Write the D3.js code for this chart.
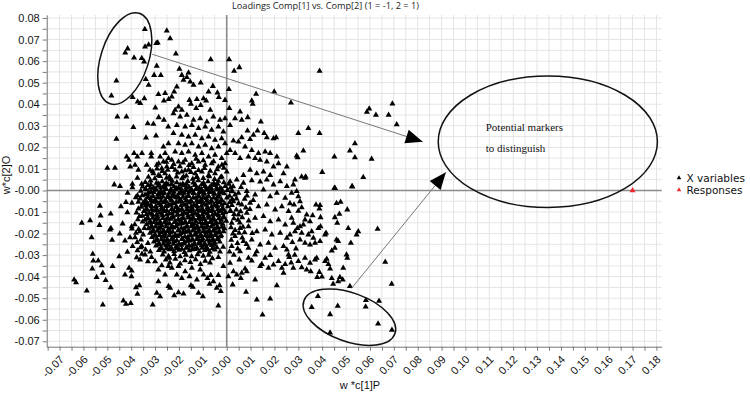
<!DOCTYPE html>
<html>
<head>
<meta charset="utf-8">
<script src="https://cdn.jsdelivr.net/npm/d3@7"></script>
<style>
  body { margin: 0; background: #fff; }
  svg { display: block; }
</style>
</head>
<body>
<div id="chart"></div>
<script>
// tick labels as printed on the axes
const xTickLabels = ["-0.07","-0.06","-0.05","-0.04","-0.03","-0.02","-0.01","-0.00","0.01","0.02","0.03","0.04","0.05","0.06","0.07","0.08","0.09","0.10","0.11","0.12","0.13","0.14","0.15","0.16","0.17","0.18"];
const yTickLabels = ["-0.07","-0.06","-0.05","-0.04","-0.03","-0.02","-0.01","-0.00","0.01","0.02","0.03","0.04","0.05","0.06","0.07","0.08"];

// X variables: [w*c[1]P, w*c[2]O]
const upperLeft = [
  [-0.0343,0.0748],[-0.0251,0.0741],[-0.0327,0.0676],[-0.0342,0.0667],[-0.0295,0.0683],[-0.0289,0.0685],
  [-0.0415,0.0658],[-0.0425,0.0639],[-0.0388,0.0616],[-0.0356,0.0613],[-0.0346,0.0597],[-0.0293,0.0577],
  [-0.0304,0.0535],[-0.0276,0.0534],[-0.0462,0.0509],[-0.0339,0.0516],[-0.0327,0.0489],[-0.0483,0.0439],
  [-0.0394,0.0432],[-0.0373,0.0412],[-0.0362,0.0404],[-0.0345,0.0427],[-0.0286,0.0446],[-0.0258,0.0451],
  [-0.0263,0.0416],[-0.0243,0.0423],[-0.0299,0.0384],[-0.0458,0.0342],[-0.0420,0.0342],[-0.0391,0.0293],
  [-0.0331,0.0311],[-0.0307,0.0308],[-0.0285,0.0339],[-0.0263,0.0327],[-0.0245,0.0296],[-0.0462,0.0239],
  [-0.0338,0.0245],[-0.0296,0.0254],[-0.0388,0.0172],[-0.0355,0.0172],[-0.0316,0.0156],[-0.0419,0.0156],
  [-0.0410,0.0141],[-0.0374,0.0156],[-0.0500,0.0104],[-0.0468,0.0104],[-0.0404,0.0110],[-0.0384,0.0118],
  [-0.0370,0.0095],[-0.0335,0.0118],[-0.0321,0.0095],[-0.0265,0.0203],[-0.0244,0.0218],[-0.0279,0.0156],
  [-0.0258,0.0172],[-0.0265,0.0133],[-0.0244,0.0149],[-0.0293,0.0118],[-0.0272,0.0102],[-0.0251,0.0110],
  [-0.0307,0.0079],[-0.0286,0.0071],[-0.0258,0.0079],[-0.0240,0.0064],[-0.0316,0.0172]
];

const upperMid = [
  [-0.0237,0.0705],[-0.0213,0.0634],[-0.0067,0.0608],[0.0010,0.0608],[0.0031,0.0554],[0.0053,0.0571],
  [-0.0198,0.0563],[-0.0160,0.0546],[-0.0167,0.0525],[-0.0188,0.0535],[-0.0153,0.0504],[-0.0139,0.0489],
  [-0.0109,0.0500],[-0.0058,0.0484],[-0.0076,0.0458],[-0.0039,0.0453],[-0.0033,0.0432],[0.0009,0.0469],
  [-0.0007,0.0419],[-0.0097,0.0427],[-0.0125,0.0423],[-0.0156,0.0419],[-0.0150,0.0401],[-0.0128,0.0381],
  [-0.0109,0.0395],[-0.0086,0.0416],[-0.0069,0.0373],[-0.0181,0.0512],[-0.0209,0.0481],[-0.0220,0.0458],
  [-0.0230,0.0435],[-0.0202,0.0388],[-0.0188,0.0373],[-0.0216,0.0373],[0.0123,0.0447],[0.0105,0.0416],
  [0.0109,0.0401],[0.0199,0.0458],[0.0389,0.0554],[0.0269,0.0407],
  [-0.0223,0.0357],[-0.0195,0.0342],[-0.0167,0.0350],[-0.0139,0.0327],[-0.0111,0.0334],[-0.0083,0.0319],
  [-0.0056,0.0342],[-0.0028,0.0327],[-0.0209,0.0303],[-0.0174,0.0296],[-0.0146,0.0303],[-0.0118,0.0288],
  [-0.0090,0.0296],[-0.0063,0.0280],[-0.0035,0.0296],[-0.0014,0.0272],[-0.0223,0.0265],[-0.0188,0.0257],
  [-0.0160,0.0249],[-0.0132,0.0257],[-0.0104,0.0241],[-0.0076,0.0249],[-0.0049,0.0234],[-0.0021,0.0241],
  [-0.0202,0.0218],[-0.0174,0.0211],[-0.0146,0.0218],[-0.0118,0.0203],[-0.0090,0.0211],[-0.0063,0.0195],
  [-0.0035,0.0203],[-0.0007,0.0218],[-0.0216,0.0180],[-0.0188,0.0172],[-0.0160,0.0180],[-0.0132,0.0164],
  [-0.0104,0.0172],[-0.0076,0.0156],[-0.0049,0.0164],[-0.0021,0.0149],[0.0000,0.0172],[-0.0230,0.0141],
  [-0.0202,0.0133],[-0.0174,0.0141],[-0.0146,0.0125],[-0.0118,0.0133],[-0.0090,0.0118],[-0.0063,0.0125],
  [-0.0035,0.0110],[-0.0007,0.0125],[-0.0216,0.0095],[-0.0188,0.0087],[-0.0160,0.0095],[-0.0132,0.0079],
  [-0.0104,0.0087],[-0.0076,0.0071],[-0.0049,0.0079],[-0.0021,0.0064],[0.0000,0.0087],[-0.0181,0.0064],
  [-0.0125,0.0064],
  [0.0143,0.0319],[0.0088,0.0339],[0.0063,0.0327],[0.0056,0.0365],[0.0035,0.0334],[0.0014,0.0303],
  [-0.0007,0.0334],[0.0011,0.0381],[0.0129,0.0277],[0.0157,0.0265],[0.0168,0.0246],[0.0196,0.0241],
  [0.0207,0.0246],[0.0087,0.0277],[0.0112,0.0257],[0.0098,0.0238],[0.0063,0.0246],[0.0049,0.0226],
  [0.0028,0.0231],[0.0077,0.0203],[0.0105,0.0187],[0.0133,0.0172],[0.0161,0.0180],[0.0182,0.0172],
  [0.0210,0.0156],[0.0217,0.0125],[0.0196,0.0110],[0.0168,0.0133],[0.0140,0.0141],[0.0119,0.0149],
  [0.0091,0.0156],[0.0056,0.0149],[0.0035,0.0172],[0.0014,0.0187],[0.0252,0.0110],[0.0238,0.0079],
  [0.0182,0.0071],[0.0154,0.0087],[0.0126,0.0079],[0.0098,0.0095],[0.0070,0.0071]
];

const upperRight = [
  [0.0597,0.0379],[0.0587,0.0364],[0.0625,0.0350],[0.0694,0.0402],[0.0678,0.0350],[0.0712,0.0306],
  [0.0300,0.0265],[0.0342,0.0288],[0.0389,0.0265],[0.0321,0.0184],[0.0293,0.0161],[0.0297,0.0153],
  [0.0451,0.0156],[0.0537,0.0218],[0.0516,0.0184],[0.0537,0.0153],[0.0607,0.0146],[0.0400,0.0085],
  [0.0314,0.0064],[0.0331,0.0064],[0.0572,0.0061],[0.0454,0.0010],[0.0526,0.0017]
];

const leftSpread = [
  [-0.0471,0.0027],[-0.0447,0.0019],[-0.0395,0.0030],[-0.0395,0.0014],[-0.0356,0.0030],[-0.0374,0.0058],
  [-0.0415,-0.0012],[-0.0443,-0.0074],[-0.0422,-0.0055],[-0.0397,-0.0058],[-0.0416,-0.0102],[-0.0374,-0.0023],
  [-0.0370,-0.0054],[-0.0342,-0.0020],[-0.0352,-0.0063],[-0.0335,-0.0058],[-0.0531,-0.0072],[-0.0528,-0.0117],
  [-0.0533,-0.0162],[-0.0486,-0.0108],[-0.0607,-0.0151],[-0.0572,-0.0139],[-0.0566,-0.0218],[-0.0485,-0.0175],
  [-0.0489,-0.0182],[-0.0480,-0.0230],[-0.0436,-0.0154],[-0.0448,-0.0201],[-0.0398,-0.0167],[-0.0397,-0.0178],
  [-0.0426,-0.0233],[-0.0405,-0.0218],[-0.0384,-0.0218],[-0.0394,-0.0259],[-0.0416,-0.0286],[-0.0374,-0.0279],
  [-0.0359,-0.0229],[-0.0363,-0.0190],[-0.0380,-0.0198],[-0.0356,-0.0259],[-0.0363,-0.0321],[-0.0377,-0.0311],
  [-0.0342,-0.0298],[-0.0561,-0.0295],[-0.0559,-0.0326],[-0.0538,-0.0326],[-0.0524,-0.0348],[-0.0563,-0.0363],
  [-0.0478,-0.0352],[-0.0519,-0.0383],[-0.0545,-0.0403],[-0.0507,-0.0417],[-0.0486,-0.0450],[-0.0586,-0.0465],
  [-0.0639,-0.0414],[-0.0631,-0.0427],[-0.0519,-0.0530],[-0.0450,-0.0306],[-0.0409,-0.0360],[-0.0398,-0.0373],
  [-0.0399,-0.0399],[-0.0426,-0.0391],[-0.0380,-0.0450],[-0.0366,-0.0441],[-0.0374,-0.0481],[-0.0433,-0.0512],
  [-0.0422,-0.0527],[-0.0402,-0.0523],[-0.0310,-0.0530],[-0.0293,-0.0476],[-0.0279,-0.0492],[-0.0286,-0.0422],
  [-0.0244,-0.0445],[-0.0258,-0.0391],[-0.0244,-0.0352],[-0.0286,-0.0368],[-0.0272,-0.0348],[-0.0240,-0.0314],
  [-0.0365,-0.0120],[-0.0352,-0.0145],[-0.0370,-0.0085],[-0.0345,-0.0175],[-0.0375,-0.0240],[-0.0350,-0.0205],
  [-0.0330,-0.0245],[-0.0340,-0.0275],[-0.0320,-0.0285],[-0.0315,-0.0310],[-0.0300,-0.0330],[-0.0330,-0.0330]
];

const lowerMid = [
  [-0.0237,-0.0453],[-0.0220,-0.0487],[-0.0181,-0.0479],[-0.0202,-0.0473],[-0.0150,-0.0441],[-0.0142,-0.0448],
  [-0.0118,-0.0476],[-0.0100,-0.0492],[-0.0042,-0.0453],[-0.0025,-0.0468],[-0.0030,-0.0441],[-0.0035,-0.0535],
  [0.0025,-0.0437],[0.0081,-0.0471],[0.0126,-0.0507],[0.0182,-0.0502],[0.0150,-0.0577],[0.0210,-0.0441],
  [0.0119,-0.0414],[-0.0230,-0.0360],[-0.0202,-0.0352],[-0.0174,-0.0376],[-0.0146,-0.0360],[-0.0111,-0.0368],
  [-0.0097,-0.0391],[-0.0081,-0.0407],[-0.0067,-0.0394],[-0.0056,-0.0422],[-0.0035,-0.0394],[-0.0072,-0.0434],
  [-0.0156,-0.0399],[-0.0209,-0.0391],[-0.0188,-0.0407],[-0.0125,-0.0414],[0.0007,-0.0399],[0.0028,-0.0376],
  [0.0042,-0.0391],[0.0063,-0.0383],[0.0077,-0.0363],[0.0059,-0.0407],[0.0084,-0.0376],[0.0140,-0.0352],
  [0.0147,-0.0342],[0.0175,-0.0360],[0.0196,-0.0345],[0.0231,-0.0360],[0.0238,-0.0383],[0.0245,-0.0342],
  [0.0161,-0.0314],[0.0182,-0.0301],[0.0217,-0.0329],[0.0259,-0.0298],[0.0105,-0.0326],[0.0119,-0.0298],
  [0.0091,-0.0314],[0.0053,-0.0321],[0.0014,-0.0337],[-0.0014,-0.0352]
];

const rightOfZero = [
  [0.0014,0.0042],[0.0042,0.0050],[0.0070,0.0034],[0.0105,0.0046],[0.0140,0.0040],[0.0168,0.0050],
  [0.0196,0.0027],[0.0224,0.0042],[0.0252,0.0019],[0.0021,-0.0004],[0.0049,-0.0012],[0.0084,-0.0004],
  [0.0119,-0.0020],[0.0154,0.0003],[0.0182,-0.0028],[0.0210,-0.0012],[0.0245,-0.0035],[0.0028,-0.0051],
  [0.0063,-0.0066],[0.0098,-0.0058],[0.0133,-0.0074],[0.0168,-0.0066],[0.0203,-0.0089],[0.0231,-0.0074],
  [0.0259,-0.0097],[0.0014,-0.0097],[0.0049,-0.0113],[0.0084,-0.0105],[0.0119,-0.0128],[0.0154,-0.0120],
  [0.0182,-0.0144],[0.0217,-0.0136],[0.0245,-0.0159],[0.0021,-0.0151],[0.0056,-0.0175],[0.0091,-0.0167],
  [0.0126,-0.0190],[0.0161,-0.0182],[0.0189,-0.0205],[0.0224,-0.0198],[0.0252,-0.0221],[0.0035,-0.0213],
  [0.0070,-0.0236],[0.0105,-0.0229],[0.0140,-0.0252],[0.0175,-0.0244],[0.0203,-0.0267],[0.0238,-0.0259],
  [0.0021,-0.0259],[0.0056,-0.0283],[0.0091,-0.0267],[0.0126,-0.0283],[0.0252,-0.0275],[0.0035,-0.0020],
  [0.0060,0.0015],[0.0040,-0.0090],[0.0065,-0.0125],[0.0035,-0.0185],[0.0075,-0.0195],[0.0045,-0.0245],
  [0.0030,-0.0130],[0.0075,-0.0040],[0.0055,-0.0150],[0.0080,-0.0080],[0.0065,-0.0220]
];

const lowerRight = [
  [0.0451,0.0011],[0.0525,0.0019],[0.0286,0.0050],[0.0328,0.0058],[0.0279,0.0027],[0.0272,-0.0012],
  [0.0293,-0.0004],[0.0300,-0.0028],[0.0307,-0.0051],[0.0282,-0.0066],[0.0314,-0.0079],[0.0374,-0.0066],
  [0.0391,-0.0069],[0.0388,-0.0085],[0.0460,-0.0059],[0.0477,-0.0054],[0.0505,-0.0089],[0.0472,-0.0109],
  [0.0453,-0.0125],[0.0463,-0.0151],[0.0360,-0.0116],[0.0393,-0.0125],[0.0335,-0.0113],[0.0328,-0.0136],
  [0.0349,-0.0144],[0.0272,-0.0128],[0.0279,-0.0151],[0.0296,-0.0175],[0.0286,-0.0190],[0.0307,-0.0167],
  [0.0321,-0.0159],[0.0314,-0.0198],[0.0342,-0.0205],[0.0356,-0.0190],[0.0363,-0.0221],[0.0384,-0.0175],
  [0.0393,-0.0167],[0.0416,-0.0198],[0.0412,-0.0205],[0.0391,-0.0236],[0.0370,-0.0244],[0.0349,-0.0252],
  [0.0328,-0.0244],[0.0307,-0.0229],[0.0509,-0.0175],[0.0551,-0.0190],[0.0544,-0.0205],[0.0632,-0.0179],
  [0.0520,-0.0244],[0.0460,-0.0229],[0.0467,-0.0236],[0.0453,-0.0267],[0.0440,-0.0280],[0.0502,-0.0298],
  [0.0505,-0.0314],[0.0419,-0.0318],[0.0412,-0.0329],[0.0426,-0.0342],[0.0377,-0.0314],[0.0370,-0.0321],
  [0.0349,-0.0337],[0.0328,-0.0314],[0.0300,-0.0329],[0.0279,-0.0360],[0.0314,-0.0357],[0.0335,-0.0368],
  [0.0352,-0.0376],[0.0388,-0.0379],[0.0399,-0.0400],[0.0379,-0.0403],[0.0433,-0.0363],[0.0440,-0.0407],
  [0.0474,-0.0403],[0.0486,-0.0414],[0.0467,-0.0422],[0.0446,-0.0434],[0.0516,-0.0445],[0.0488,-0.0360],
  [0.0664,-0.0332],[0.0691,-0.0434],[0.0265,-0.0205],[0.0275,-0.0240],[0.0290,-0.0270],[0.0262,-0.0310],
  [0.0285,-0.0300],[0.0270,-0.0335],[0.0300,-0.0095],[0.0265,-0.0060]
];

const lowerRing = [
  [0.0382,-0.0491],[0.0356,-0.0542],[0.0465,-0.0536],[0.0433,-0.0575],[0.0583,-0.0509],
  [0.0582,-0.0540],[0.0638,-0.0513],[0.0634,-0.0619],[0.0692,-0.0648],[0.0433,-0.0660]
];

const core = [
  [-0.0328,0.0062],[-0.0301,0.0055],[-0.0279,0.0066],[-0.0252,0.0058],[-0.0236,0.0051],[-0.0210,0.0064],[-0.0187,0.0056],[-0.0169,0.0068],[-0.0142,0.0053],[-0.0125,0.0061],[-0.0098,0.0057],[-0.0073,0.0065],[-0.0051,0.0052],[-0.0026,0.0060],
  [-0.0341,0.0038],[-0.0319,0.0045],[-0.0294,0.0035],[-0.0270,0.0042],[-0.0253,0.0033],[-0.0228,0.0044],[-0.0209,0.0037],[-0.0184,0.0031],[-0.0163,0.0043],[-0.0140,0.0036],[-0.0119,0.0046],[-0.0097,0.0034],[-0.0078,0.0041],[-0.0054,0.0032],[-0.0035,0.0044],[-0.0012,0.0037],[0.0009,0.0030],
  [-0.0352,0.0017],[-0.0330,0.0024],[-0.0306,0.0013],[-0.0287,0.0021],[-0.0264,0.0015],[-0.0245,0.0026],[-0.0221,0.0018],[-0.0202,0.0011],[-0.0179,0.0023],[-0.0158,0.0016],[-0.0134,0.0025],[-0.0115,0.0012],[-0.0091,0.0020],[-0.0072,0.0014],[-0.0049,0.0024],[-0.0028,0.0010],[-0.0006,0.0019],[0.0016,0.0013],
  [-0.0360,-0.0003],[-0.0339,0.0004],[-0.0317,-0.0006],[-0.0296,0.0002],[-0.0275,-0.0004],[-0.0254,0.0005],[-0.0233,-0.0002],[-0.0214,0.0003],[-0.0191,-0.0005],[-0.0170,0.0001],[-0.0148,-0.0003],[-0.0127,0.0005],[-0.0106,-0.0006],[-0.0084,0.0002],[-0.0063,-0.0004],[-0.0041,0.0003],[-0.0020,-0.0007],[0.0003,0.0001],[0.0024,-0.0005],
  [-0.0354,-0.0023],[-0.0332,-0.0016],[-0.0309,-0.0026],[-0.0288,-0.0019],[-0.0266,-0.0014],[-0.0246,-0.0025],[-0.0224,-0.0018],[-0.0205,-0.0027],[-0.0182,-0.0015],[-0.0161,-0.0022],[-0.0139,-0.0013],[-0.0118,-0.0024],[-0.0096,-0.0017],[-0.0075,-0.0028],[-0.0053,-0.0016],[-0.0032,-0.0021],[-0.0011,-0.0014],[0.0012,-0.0026],
  [-0.0363,-0.0038],[-0.0341,-0.0045],[-0.0320,-0.0036],[-0.0299,-0.0043],[-0.0277,-0.0034],[-0.0257,-0.0047],[-0.0235,-0.0039],[-0.0213,-0.0033],[-0.0194,-0.0044],[-0.0172,-0.0037],[-0.0150,-0.0046],[-0.0129,-0.0035],[-0.0107,-0.0042],[-0.0086,-0.0036],[-0.0065,-0.0047],[-0.0043,-0.0038],[-0.0022,-0.0044],[0.0001,-0.0034],[0.0023,-0.0041],
  [-0.0350,-0.0058],[-0.0329,-0.0065],[-0.0307,-0.0054],[-0.0285,-0.0062],[-0.0264,-0.0056],[-0.0243,-0.0067],[-0.0222,-0.0059],[-0.0201,-0.0053],[-0.0180,-0.0064],[-0.0159,-0.0057],[-0.0137,-0.0066],[-0.0116,-0.0055],[-0.0095,-0.0063],[-0.0074,-0.0058],[-0.0052,-0.0068],[-0.0031,-0.0056],[-0.0009,-0.0061],[0.0013,-0.0055],
  [-0.0358,-0.0077],[-0.0336,-0.0084],[-0.0315,-0.0075],[-0.0293,-0.0086],[-0.0272,-0.0079],[-0.0251,-0.0073],[-0.0230,-0.0085],[-0.0209,-0.0078],[-0.0188,-0.0087],[-0.0166,-0.0076],[-0.0145,-0.0083],[-0.0124,-0.0074],[-0.0103,-0.0085],[-0.0081,-0.0079],[-0.0060,-0.0088],[-0.0039,-0.0076],[-0.0017,-0.0082],[0.0005,-0.0075],
  [-0.0347,-0.0097],[-0.0325,-0.0105],[-0.0304,-0.0094],[-0.0282,-0.0103],[-0.0261,-0.0096],[-0.0240,-0.0107],[-0.0219,-0.0099],[-0.0198,-0.0093],[-0.0177,-0.0104],[-0.0155,-0.0098],[-0.0134,-0.0106],[-0.0113,-0.0095],[-0.0092,-0.0102],[-0.0070,-0.0097],[-0.0049,-0.0108],[-0.0028,-0.0096],[-0.0006,-0.0101],[0.0016,-0.0094],
  [-0.0353,-0.0118],[-0.0331,-0.0125],[-0.0310,-0.0114],[-0.0289,-0.0122],[-0.0268,-0.0116],[-0.0247,-0.0127],[-0.0225,-0.0119],[-0.0204,-0.0113],[-0.0183,-0.0124],[-0.0162,-0.0117],[-0.0141,-0.0126],[-0.0119,-0.0115],[-0.0098,-0.0123],[-0.0077,-0.0118],[-0.0056,-0.0128],[-0.0034,-0.0116],[-0.0013,-0.0121],
  [-0.0342,-0.0137],[-0.0320,-0.0144],[-0.0299,-0.0135],[-0.0278,-0.0146],[-0.0256,-0.0139],[-0.0235,-0.0133],[-0.0214,-0.0145],[-0.0193,-0.0138],[-0.0172,-0.0147],[-0.0150,-0.0136],[-0.0129,-0.0143],[-0.0108,-0.0134],[-0.0087,-0.0145],[-0.0065,-0.0139],[-0.0044,-0.0148],[-0.0023,-0.0136],[-0.0002,-0.0142],
  [-0.0336,-0.0158],[-0.0314,-0.0165],[-0.0293,-0.0154],[-0.0272,-0.0162],[-0.0251,-0.0156],[-0.0229,-0.0167],[-0.0208,-0.0159],[-0.0187,-0.0153],[-0.0166,-0.0164],[-0.0144,-0.0157],[-0.0123,-0.0166],[-0.0102,-0.0155],[-0.0081,-0.0163],[-0.0059,-0.0158],[-0.0038,-0.0168],[-0.0017,-0.0156],
  [-0.0328,-0.0177],[-0.0307,-0.0184],[-0.0285,-0.0175],[-0.0264,-0.0186],[-0.0243,-0.0179],[-0.0222,-0.0173],[-0.0201,-0.0185],[-0.0179,-0.0178],[-0.0158,-0.0187],[-0.0137,-0.0176],[-0.0116,-0.0183],[-0.0095,-0.0174],[-0.0073,-0.0185],[-0.0052,-0.0179],[-0.0031,-0.0188],[-0.0010,-0.0176],
  [-0.0321,-0.0198],[-0.0300,-0.0205],[-0.0278,-0.0194],[-0.0257,-0.0202],[-0.0236,-0.0196],[-0.0215,-0.0207],[-0.0193,-0.0199],[-0.0172,-0.0193],[-0.0151,-0.0204],[-0.0130,-0.0197],[-0.0108,-0.0206],[-0.0087,-0.0195],[-0.0066,-0.0203],[-0.0045,-0.0198],[-0.0023,-0.0208],
  [-0.0313,-0.0217],[-0.0292,-0.0224],[-0.0270,-0.0215],[-0.0249,-0.0226],[-0.0228,-0.0219],[-0.0207,-0.0213],[-0.0186,-0.0225],[-0.0164,-0.0218],[-0.0143,-0.0227],[-0.0122,-0.0216],[-0.0101,-0.0223],[-0.0079,-0.0214],[-0.0058,-0.0225],[-0.0037,-0.0219],
  [-0.0305,-0.0238],[-0.0283,-0.0245],[-0.0262,-0.0234],[-0.0241,-0.0242],[-0.0220,-0.0236],[-0.0199,-0.0247],[-0.0177,-0.0239],[-0.0156,-0.0233],[-0.0135,-0.0244],[-0.0114,-0.0237],[-0.0092,-0.0246],[-0.0071,-0.0235],[-0.0050,-0.0243],[-0.0029,-0.0238],
  [-0.0296,-0.0257],[-0.0275,-0.0264],[-0.0254,-0.0255],[-0.0232,-0.0266],[-0.0211,-0.0259],[-0.0190,-0.0253],[-0.0169,-0.0265],[-0.0147,-0.0258],[-0.0126,-0.0267],[-0.0105,-0.0256],[-0.0084,-0.0263],[-0.0062,-0.0254],[-0.0041,-0.0265],
  [-0.0284,-0.0278],[-0.0262,-0.0285],[-0.0241,-0.0274],[-0.0220,-0.0282],[-0.0199,-0.0276],[-0.0177,-0.0287],[-0.0156,-0.0279],[-0.0135,-0.0273],[-0.0114,-0.0284],[-0.0092,-0.0277],[-0.0071,-0.0286],[-0.0050,-0.0275],
  [-0.0268,-0.0298],[-0.0244,-0.0305],[-0.0220,-0.0296],[-0.0195,-0.0307],[-0.0171,-0.0299],[-0.0147,-0.0306],[-0.0122,-0.0297],[-0.0098,-0.0304],[-0.0075,-0.0299],
  [-0.0255,-0.0322],[-0.0215,-0.0318],[-0.0175,-0.0325],[-0.0130,-0.0320],[-0.0090,-0.0327],[-0.0060,-0.0316]
];

// the darkest part of the cloud, where triangles overlap into a solid mass
const coreDense = [
  [-0.0318,0.0027],[-0.0285,0.0031],[-0.0262,0.0024],[-0.0231,0.0029],[-0.0195,0.0026],[-0.0168,0.0030],[-0.0131,0.0025],[-0.0104,0.0029],[-0.0062,0.0026],[-0.0038,0.0030],
  [-0.0340,0.0008],[-0.0320,0.0011],[-0.0297,0.0007],[-0.0276,0.0012],[-0.0255,0.0009],[-0.0234,0.0006],[-0.0212,0.0011],[-0.0191,0.0008],[-0.0170,0.0012],[-0.0148,0.0007],[-0.0127,0.0010],[-0.0106,0.0006],[-0.0085,0.0011],[-0.0063,0.0008],[-0.0042,0.0012],[-0.0021,0.0007],
  [-0.0326,-0.0011],[-0.0305,-0.0008],[-0.0283,-0.0013],[-0.0262,-0.0009],[-0.0241,-0.0012],[-0.0221,-0.0007],[-0.0200,-0.0014],[-0.0179,-0.0010],[-0.0158,-0.0007],[-0.0137,-0.0013],[-0.0116,-0.0009],[-0.0095,-0.0012],[-0.0073,-0.0008],[-0.0052,-0.0014],[-0.0031,-0.0010],
  [-0.0331,-0.0031],[-0.0310,-0.0028],[-0.0289,-0.0033],[-0.0267,-0.0029],[-0.0246,-0.0032],[-0.0225,-0.0027],[-0.0204,-0.0034],[-0.0183,-0.0030],[-0.0162,-0.0027],[-0.0140,-0.0033],[-0.0119,-0.0029],[-0.0098,-0.0032],[-0.0077,-0.0028],[-0.0055,-0.0034],[-0.0034,-0.0030],
  [-0.0339,-0.0051],[-0.0318,-0.0048],[-0.0296,-0.0053],[-0.0275,-0.0049],[-0.0254,-0.0052],[-0.0232,-0.0047],[-0.0211,-0.0054],[-0.0190,-0.0050],[-0.0169,-0.0047],[-0.0148,-0.0053],[-0.0126,-0.0049],[-0.0105,-0.0052],[-0.0084,-0.0048],[-0.0063,-0.0054],[-0.0041,-0.0050],[-0.0020,-0.0047],
  [-0.0340,-0.0071],[-0.0318,-0.0068],[-0.0297,-0.0073],[-0.0276,-0.0069],[-0.0255,-0.0072],[-0.0233,-0.0067],[-0.0212,-0.0074],[-0.0191,-0.0070],[-0.0170,-0.0067],[-0.0148,-0.0073],[-0.0127,-0.0069],[-0.0106,-0.0072],[-0.0085,-0.0068],[-0.0063,-0.0074],[-0.0042,-0.0070],[-0.0021,-0.0067],
  [-0.0336,-0.0091],[-0.0315,-0.0088],[-0.0293,-0.0093],[-0.0272,-0.0089],[-0.0251,-0.0092],[-0.0229,-0.0087],[-0.0208,-0.0094],[-0.0187,-0.0090],[-0.0166,-0.0087],[-0.0144,-0.0093],[-0.0123,-0.0089],[-0.0102,-0.0092],[-0.0081,-0.0088],[-0.0059,-0.0094],[-0.0038,-0.0090],[-0.0017,-0.0087],
  [-0.0336,-0.0111],[-0.0315,-0.0108],[-0.0294,-0.0113],[-0.0272,-0.0109],[-0.0251,-0.0112],[-0.0230,-0.0107],[-0.0208,-0.0114],[-0.0187,-0.0110],[-0.0166,-0.0107],[-0.0145,-0.0113],[-0.0123,-0.0109],[-0.0102,-0.0112],[-0.0081,-0.0108],[-0.0060,-0.0114],[-0.0038,-0.0110],[-0.0017,-0.0107],
  [-0.0331,-0.0131],[-0.0310,-0.0128],[-0.0289,-0.0133],[-0.0267,-0.0129],[-0.0246,-0.0132],[-0.0225,-0.0127],[-0.0203,-0.0134],[-0.0182,-0.0130],[-0.0161,-0.0127],[-0.0140,-0.0133],[-0.0118,-0.0129],[-0.0097,-0.0132],[-0.0076,-0.0128],[-0.0055,-0.0134],[-0.0033,-0.0130],[-0.0012,-0.0127],
  [-0.0325,-0.0151],[-0.0304,-0.0148],[-0.0283,-0.0153],[-0.0261,-0.0149],[-0.0240,-0.0152],[-0.0219,-0.0147],[-0.0197,-0.0154],[-0.0176,-0.0150],[-0.0155,-0.0147],[-0.0134,-0.0153],[-0.0112,-0.0149],[-0.0091,-0.0152],[-0.0070,-0.0148],[-0.0049,-0.0154],[-0.0027,-0.0150],
  [-0.0318,-0.0171],[-0.0297,-0.0168],[-0.0276,-0.0173],[-0.0254,-0.0169],[-0.0233,-0.0172],[-0.0212,-0.0167],[-0.0190,-0.0174],[-0.0169,-0.0170],[-0.0148,-0.0167],[-0.0127,-0.0173],[-0.0105,-0.0169],[-0.0084,-0.0172],[-0.0063,-0.0168],[-0.0042,-0.0174],[-0.0020,-0.0170],
  [-0.0311,-0.0191],[-0.0290,-0.0188],[-0.0268,-0.0193],[-0.0247,-0.0189],[-0.0226,-0.0192],[-0.0204,-0.0187],[-0.0183,-0.0194],[-0.0162,-0.0190],[-0.0141,-0.0187],[-0.0119,-0.0193],[-0.0098,-0.0189],[-0.0077,-0.0192],[-0.0056,-0.0188],[-0.0034,-0.0194],[-0.0013,-0.0190],
  [-0.0303,-0.0211],[-0.0282,-0.0208],[-0.0260,-0.0213],[-0.0239,-0.0209],[-0.0218,-0.0212],[-0.0196,-0.0207],[-0.0175,-0.0214],[-0.0154,-0.0210],[-0.0133,-0.0207],[-0.0111,-0.0213],[-0.0090,-0.0209],[-0.0069,-0.0212],[-0.0048,-0.0208],[-0.0026,-0.0214],
  [-0.0294,-0.0231],[-0.0273,-0.0228],[-0.0252,-0.0233],[-0.0230,-0.0229],[-0.0209,-0.0232],[-0.0188,-0.0227],[-0.0166,-0.0234],[-0.0145,-0.0230],[-0.0124,-0.0227],[-0.0103,-0.0233],[-0.0081,-0.0229],[-0.0060,-0.0232],[-0.0039,-0.0228],
  [-0.0286,-0.0251],[-0.0265,-0.0248],[-0.0243,-0.0253],[-0.0222,-0.0249],[-0.0201,-0.0252],[-0.0179,-0.0247],[-0.0158,-0.0254],[-0.0137,-0.0250],[-0.0116,-0.0247],[-0.0094,-0.0253],[-0.0073,-0.0249],[-0.0052,-0.0252],
  [-0.0273,-0.0271],[-0.0252,-0.0268],[-0.0230,-0.0273],[-0.0209,-0.0269],[-0.0188,-0.0272],[-0.0166,-0.0267],[-0.0145,-0.0274],[-0.0124,-0.0270],[-0.0103,-0.0267],[-0.0081,-0.0273],[-0.0060,-0.0269]
];

// ragged edge around the solid mass
const coreFringe = [
  [-0.0310,0.0088],[-0.0292,0.0101],[-0.0270,0.0089],[-0.0247,0.0095],[-0.0229,0.0108],[-0.0205,0.0082],
  [-0.0196,0.0111],[-0.0174,0.0093],[-0.0150,0.0085],[-0.0139,0.0108],[-0.0118,0.0094],[-0.0093,0.0103],
  [-0.0069,0.0090],[-0.0040,0.0097],[-0.0012,0.0104],[-0.0285,0.0125],[-0.0253,0.0132],[-0.0222,0.0121],
  [-0.0183,0.0128],[-0.0158,0.0117],[-0.0128,0.0146],[-0.0098,0.0139],[-0.0055,0.0134],[-0.0020,0.0118],
  [0.0027,0.0018],[0.0041,-0.0038],[0.0022,-0.0069],[0.0050,-0.0060],[0.0031,-0.0111],[0.0058,-0.0098],
  [0.0018,-0.0172],[0.0047,-0.0137],[0.0026,-0.0201],[0.0052,-0.0198],[0.0019,-0.0230],[0.0046,-0.0271],
  [0.0085,-0.0025],[0.0097,-0.0087],[0.0092,-0.0141],[0.0107,-0.0199],[0.0083,-0.0250],[0.0111,-0.0045],
  [0.0068,-0.0170],[0.0012,-0.0285],[0.0030,-0.0300],
  [-0.0238,-0.0336],[-0.0195,-0.0340],[-0.0152,-0.0333],[-0.0110,-0.0342],[-0.0070,-0.0336],[-0.0035,-0.0310],
  [-0.0028,-0.0285],[-0.0015,-0.0262],
  [-0.0381,-0.0033],[-0.0378,-0.0104],[-0.0385,-0.0158],[-0.0372,-0.0135],[-0.0369,-0.0180],[-0.0361,-0.0265],
  [-0.0355,-0.0295]
];

const responses = [[0.17, 0.0]];

const xVariables = [].concat(upperLeft, upperMid, upperRight, leftSpread, lowerMid, rightOfZero, lowerRight, lowerRing, core, coreDense, coreFringe);

// chart setup
const width = 750, height = 393;
const plot = { left: 46.7, right: 661.7, top: 15, bottom: 346.7 };

const svg = d3.select("#chart")
  .append("svg")
  .attr("width", width)
  .attr("height", height);

const x = d3.scaleLinear().domain([-0.0754, 0.1822]).range([plot.left, plot.right]);
const y = d3.scaleLinear().domain([-0.0725, 0.0814]).range([plot.bottom, plot.top]);

const xMajor = xTickLabels.map(Number);
const yMajor = yTickLabels.map(Number);
const xAll = d3.range(-15, 37).map(i => +(i * 0.005).toFixed(3));
const yAll = d3.range(-14, 17).map(i => +(i * 0.005).toFixed(3));
const labelFor = (majors, labels) => v => {
  const i = majors.findIndex(m => Math.abs(m - v) < 1e-9);
  return i < 0 ? "" : labels[i];
};

// grid
svg.append("g")
  .selectAll("line")
  .data(xAll)
  .join("line")
  .attr("x1", d => x(d)).attr("x2", d => x(d))
  .attr("y1", plot.top).attr("y2", plot.bottom)
  .attr("stroke", "#e4e4e4");

svg.append("g")
  .selectAll("line")
  .data(yAll)
  .join("line")
  .attr("x1", plot.left).attr("x2", plot.right)
  .attr("y1", d => y(d)).attr("y2", d => y(d))
  .attr("stroke", "#e4e4e4");

// zero lines
svg.append("line")
  .attr("x1", plot.left).attr("x2", plot.right)
  .attr("y1", y(0)).attr("y2", y(0))
  .attr("stroke", "#8a8a8a").attr("stroke-width", 1.6);
svg.append("line")
  .attr("x1", x(0)).attr("x2", x(0))
  .attr("y1", plot.top).attr("y2", plot.bottom)
  .attr("stroke", "#8a8a8a").attr("stroke-width", 1.6);

// axes
const xAxis = svg.append("g")
  .attr("transform", `translate(0,${plot.bottom})`)
  .call(d3.axisBottom(x).tickValues(xAll).tickSize(4).tickSizeOuter(0)
    .tickFormat(labelFor(xMajor, xTickLabels)));
xAxis.selectAll("text")
  .attr("x", 0).attr("y", 0).attr("dy", 0)
  .attr("transform", "translate(4.5,13.5) rotate(-45)")
  .style("text-anchor", "end");

const yAxis = svg.append("g")
  .attr("transform", `translate(${plot.left},0)`)
  .call(d3.axisLeft(y).tickValues(yAll).tickSize(4).tickSizeOuter(0)
    .tickFormat(labelFor(yMajor, yTickLabels)));

svg.selectAll(".domain").attr("stroke", "#777");
svg.selectAll(".tick line").attr("stroke", "#777");
svg.selectAll(".tick text")
  .attr("fill", "#111")
  .style("font-family", "'Liberation Sans', Arial, sans-serif")
  .style("font-size", "11px");

// titles
svg.append("text")
  .attr("x", 325.5).attr("y", 8.5)
  .attr("text-anchor", "middle")
  .style("font-family", "'Open Sans', sans-serif")
  .style("font-size", "9.2px")
  .attr("fill", "#222")
  .text("Loadings Comp[1] vs. Comp[2] (1 = -1, 2 = 1)");

svg.append("text")
  .attr("x", 360).attr("y", 389)
  .attr("text-anchor", "middle")
  .style("font-family", "'Liberation Sans', Arial, sans-serif")
  .style("font-size", "11px")
  .attr("fill", "#111")
  .text("w *c[1]P");

svg.append("text")
  .attr("transform", "translate(10,175) rotate(-90)")
  .attr("text-anchor", "middle")
  .style("font-family", "'Liberation Sans', Arial, sans-serif")
  .style("font-size", "11px")
  .attr("fill", "#111")
  .text("w*c[2]O");

// points
const tri = d3.symbol().type(d3.symbolTriangle).size(16);

svg.append("g")
  .selectAll("path")
  .data(xVariables)
  .join("path")
  .attr("d", tri)
  .attr("transform", d => `translate(${x(d[0])},${y(d[1])})`)
  .attr("fill", "#000");

svg.append("g")
  .selectAll("path")
  .data(responses)
  .join("path")
  .attr("d", tri)
  .attr("transform", d => `translate(${x(d[0])},${y(d[1])})`)
  .attr("fill", "#ee2b2b");

// annotations
const ann = svg.append("g").attr("fill", "none");

ann.append("ellipse")
  .attr("cx", 0).attr("cy", 0).attr("rx", 23.9).attr("ry", 47.5)
  .attr("transform", `translate(${x(-0.0427)},${y(0.0612)}) rotate(17.9)`)
  .attr("stroke", "#111").attr("stroke-width", 1.5);

ann.append("ellipse")
  .attr("cx", 0).attr("cy", 0).attr("rx", 48.4).attr("ry", 24.3)
  .attr("transform", `translate(${x(0.0514)},${y(-0.0588)}) rotate(20)`)
  .attr("stroke", "#111").attr("stroke-width", 1.5);

ann.append("ellipse")
  .attr("cx", x(0.1345)).attr("cy", y(0.0226))
  .attr("rx", x(0.1345) - x(0.0886)).attr("ry", y(0.0226) - y(0.0531))
  .attr("stroke", "#111").attr("stroke-width", 1.5);

const defs = svg.append("defs");
defs.append("marker")
  .attr("id", "head")
  .attr("markerUnits", "userSpaceOnUse")
  .attr("markerWidth", 20).attr("markerHeight", 16)
  .attr("viewBox", "0 -8 18 16")
  .attr("refX", 17).attr("refY", 0)
  .attr("orient", "auto")
  .append("path")
  .attr("d", "M0,-7L17,0L0,7Z")
  .attr("fill", "#000");

const arrows = [
  { from: [-0.0312, 0.0632], to: [0.0821, 0.0226] },
  { from: [0.0523, -0.0454], to: [0.0918, 0.0084] }
];
ann.selectAll("line.arrow")
  .data(arrows)
  .join("line")
  .attr("class", "arrow")
  .attr("x1", d => x(d.from[0])).attr("y1", d => y(d.from[1]))
  .attr("x2", d => x(d.to[0])).attr("y2", d => y(d.to[1]))
  .attr("stroke", "#777").attr("stroke-width", 1)
  .attr("marker-end", "url(#head)");

const note = svg.append("g")
  .style("font-family", "'Liberation Serif', 'Times New Roman', serif")
  .style("font-size", "11px")
  .attr("fill", "#111");
note.append("text").attr("x", x(0.1085)).attr("y", y(0.0276)).text("Potential markers");
note.append("text").attr("x", x(0.1085)).attr("y", y(0.0180)).text("to distinguish");

// legend
const legend = svg.append("g")
  .style("font-family", "'DejaVu Sans', Verdana, sans-serif")
  .style("font-size", "10.5px");
const legendItems = [
  { label: "X variables", color: "#000" },
  { label: "Responses", color: "#ee2b2b" }
];
legendItems.forEach((d, i) => {
  legend.append("path")
    .attr("d", d3.symbol().type(d3.symbolTriangle).size(9))
    .attr("transform", `translate(679,${178 + i * 12})`)
    .attr("fill", d.color);
  legend.append("text")
    .attr("x", 686.5).attr("y", 181.5 + i * 12)
    .attr("fill", "#111")
    .text(d.label);
});
</script>
</body>
</html>
